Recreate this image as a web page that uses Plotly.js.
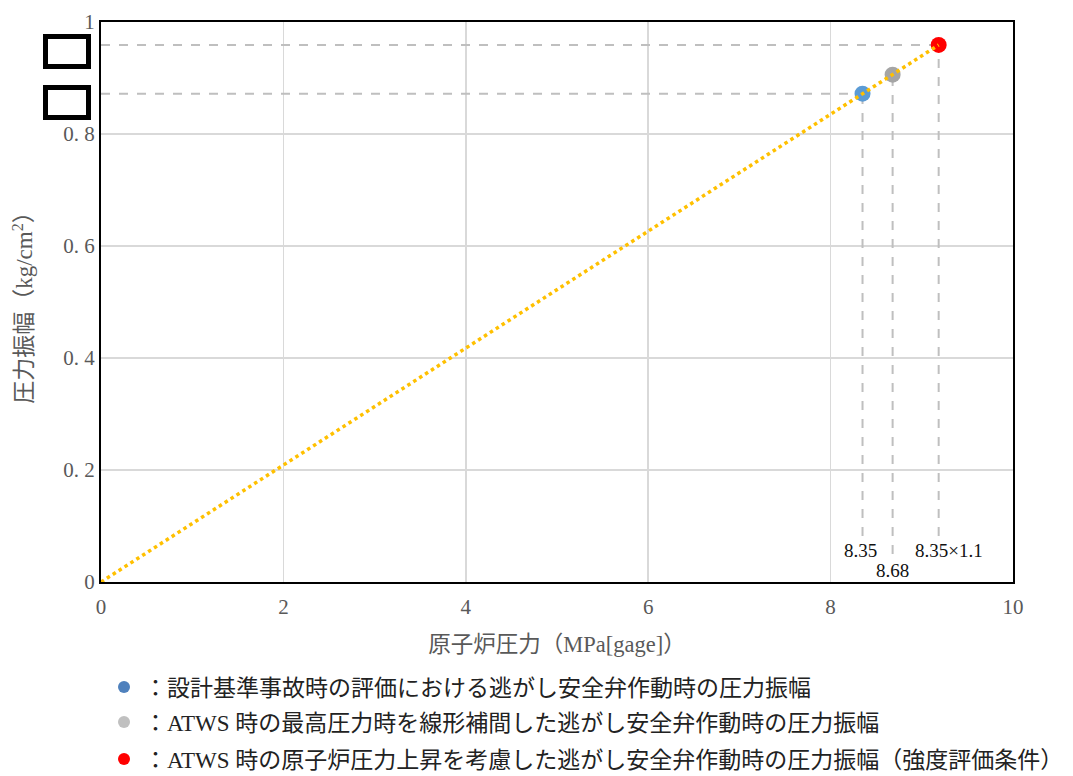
<!DOCTYPE html>
<html>
<head>
<meta charset="utf-8">
<script src="https://cdn.plot.ly/plotly-3.0.1.min.js"></script>
<style>html,body{margin:0;padding:0;background:#fff;}#chart{width:1073px;height:776px;}</style>
</head>
<body>
<div id="chart"></div>
<script>
// Data
const pointNames = [
  "：設計基準事故時の評価における逃がし安全弁作動時の圧力振幅",
  "：ATWS 時の最高圧力時を線形補間した逃がし安全弁作動時の圧力振幅",
  "：ATWS 時の原子炉圧力上昇を考慮した逃がし安全弁作動時の圧力振幅（強度評価条件）"
];
const pointPressure = [8.35, 8.68, 9.185];      // MPa[gage]
const pointAmplitude = [0.872, 0.906, 0.959];   // kg/cm2
const pointLabels = ["8.35", "8.68", "8.35×1.1"];
const lineX = [0, 9.185];
const lineY = [0, 0.959];
const xTicks = [0, 2, 4, 6, 8, 10];
const yTicks = [0, 0.2, 0.4, 0.6, 0.8, 1];
const yTickText = ["0", "0. 2", "0. 4", "0. 6", "0. 8", "1"];

const serif = "'Liberation Serif', 'Noto Sans CJK JP', serif";
const cjk = "'Liberation Serif', 'Noto Sans CJK JP', serif";
const pointColors = ["#5b9bd5", "#a5a5a5", "#ff0000"];
const legendColors = ["#4f81bd", "#c0c0c0", "#ff0000"];
const vEnd = [0.082, 0.05, 0.082];
const hLines = [0, 2]; // horizontal guides drawn for blue and red

const traces = [];
pointPressure.forEach((x, i) => {
  traces.push({x: [x, x], y: [vEnd[i], pointAmplitude[i]], mode: "lines", showlegend: false,
    line: {color: "#bfbfbf", width: 2, dash: "dash"}, hoverinfo: "skip"});
});
hLines.forEach(i => {
  traces.push({x: [0, pointPressure[i]], y: [pointAmplitude[i], pointAmplitude[i]], mode: "lines", showlegend: false,
    line: {color: "#bfbfbf", width: 2, dash: "dash"}, hoverinfo: "skip"});
});
pointPressure.forEach((x, i) => {
  traces.push({x: [x], y: [pointAmplitude[i]], mode: "markers", showlegend: false,
    marker: {color: pointColors[i], size: 16}});
});
traces.push({x: lineX, y: lineY, mode: "lines", showlegend: false,
  line: {color: "#ffc000", width: 3.5, dash: "dot"}});
const legendIds = ["legend", "legend2", "legend3"];
pointNames.forEach((n, i) => {
  traces.push({x: [null], y: [null], mode: "markers", name: n, showlegend: true, legend: legendIds[i],
    marker: {color: legendColors[i], size: 13}});
});

const legendY = [687, 722, 759];
const legendBase = {bgcolor: "rgba(0,0,0,0)", font: {family: cjk, size: 23, color: "#222"},
  xanchor: "left", yanchor: "middle", borderwidth: 0, itemsizing: "constant", xref: "paper", yref: "paper"};
const toPy = py => (582 - py) / 560;

const labelYs = [0.057, 0.021, 0.057];
const labelXs = [8.33, 8.68, 9.3];
const annotations = pointLabels.map((t, i) => ({
  x: labelXs[i], y: labelYs[i], xref: "x", yref: "y", text: t, showarrow: false,
  font: {family: serif, size: 19, color: "#111"}, xanchor: "center", yanchor: "middle"
}));

const boxShape = (y0, y1) => ({type: "rect", xref: "paper", yref: "paper",
  x0: (45.5 - 101) / 912, x1: (88.5 - 101) / 912, y0: toPy(y0), y1: toPy(y1),
  line: {color: "#000", width: 5}, fillcolor: "rgba(0,0,0,0)"});

const layout = {
  width: 1073, height: 776,
  margin: {l: 101, r: 60, t: 22, b: 194, autoexpand: false},
  paper_bgcolor: "#fff", plot_bgcolor: "#fff",
  showlegend: true,
  xaxis: {range: [0, 10], tickvals: xTicks, ticktext: xTicks.map(String),
    showgrid: true, gridcolor: "#d9d9d9", gridwidth: 1.5, zeroline: false,
    showline: true, linecolor: "#000", linewidth: 2, mirror: true, ticks: "",
    ticklabelstandoff: 5,
    tickfont: {family: serif, size: 21, color: "#595959"},
    title: {text: "原子炉圧力（MPa[gage]）", font: {family: cjk, size: 22.5, color: "#595959"}, standoff: 18}},
  yaxis: {range: [0, 1], tickvals: yTicks, ticktext: yTickText,
    showgrid: true, gridcolor: "#d9d9d9", gridwidth: 1.5, zeroline: false,
    showline: true, linecolor: "#000", linewidth: 2, mirror: true, ticks: "",
    tickfont: {family: serif, size: 21, color: "#595959"},
    title: {text: "圧力振幅（kg/cm<sup>2</sup>）", font: {family: cjk, size: 23, color: "#595959"}, standoff: 24}},
  legend: Object.assign({}, legendBase, {x: 3 / 912, y: toPy(legendY[0])}),
  legend2: Object.assign({}, legendBase, {x: 3 / 912, y: toPy(legendY[1])}),
  legend3: Object.assign({}, legendBase, {x: 3 / 912, y: toPy(legendY[2])}),
  annotations: annotations,
  shapes: [boxShape(36.5, 66.5), boxShape(87.5, 117.5)]
};

Plotly.newPlot("chart", traces, layout, {displayModeBar: false, staticPlot: true});
</script>
</body>
</html>
